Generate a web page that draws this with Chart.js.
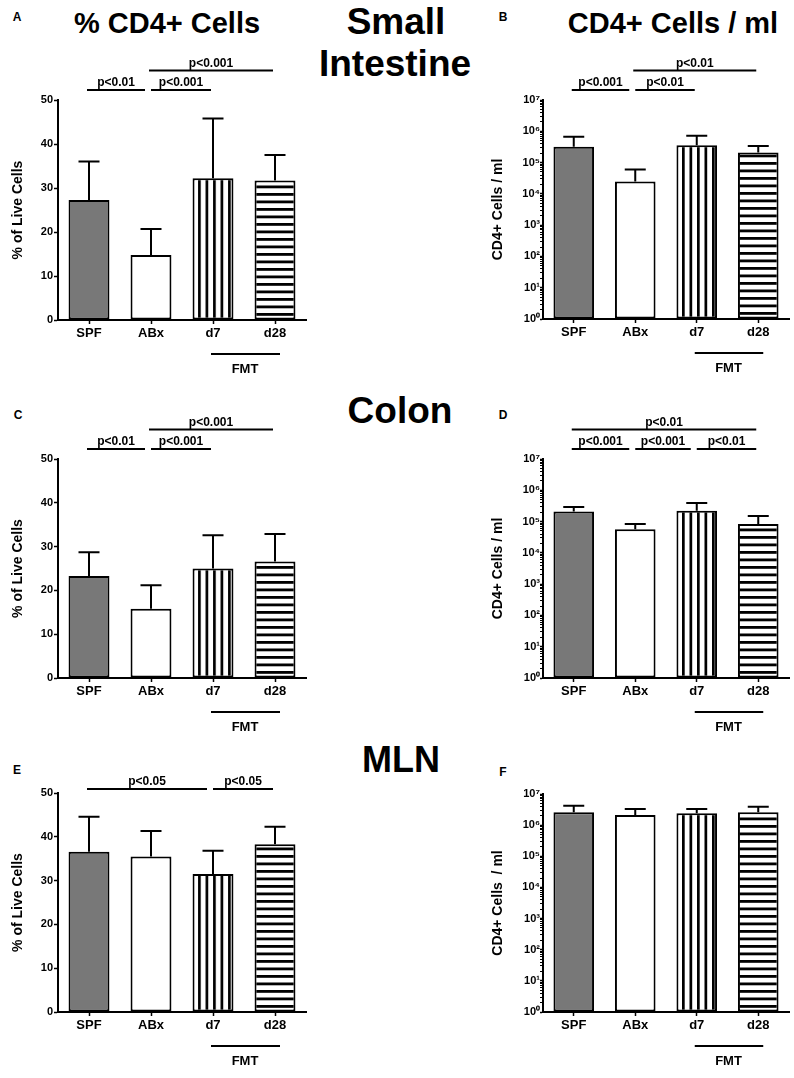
<!DOCTYPE html>
<html>
<head>
<meta charset="utf-8">
<script src="https://cdn.jsdelivr.net/npm/chart.js@4.4.1/dist/chart.umd.min.js"></script>
<style>
    body {
        margin: 0;
        width: 794px;
        height: 1078px;
        position: relative;
        overflow: hidden;
        background: #fff;
        font-family: "Liberation Sans", Arial, sans-serif;
        font-weight: bold;
        color: #000;
    }
    .txt {
        position: absolute;
        white-space: nowrap;
        line-height: 1;
        transform: translate(-50%, -50%);
    }
    canvas {
        position: absolute;
    }
</style>
</head>
<body>

<div class="txt" style="left:17px;top:17px;font-size:12px">A</div>
<div class="txt" style="left:167px;top:23px;font-size:29px">% CD4+ Cells</div>
<div class="txt" style="left:396px;top:21px;font-size:37px">Small</div>
<div class="txt" style="left:395px;top:63px;font-size:37px">Intestine</div>
<div class="txt" style="left:503px;top:17px;font-size:12px">B</div>
<div class="txt" style="left:673px;top:23px;font-size:29px">CD4+ Cells / ml</div>

<div class="txt" style="left:18px;top:415px;font-size:12px">C</div>
<div class="txt" style="left:400px;top:410px;font-size:37px">Colon</div>
<div class="txt" style="left:503px;top:415px;font-size:12px">D</div>

<div class="txt" style="left:17px;top:770px;font-size:12px">E</div>
<div class="txt" style="left:401px;top:760px;font-size:36px">MLN</div>
<div class="txt" style="left:503px;top:772px;font-size:12px">F</div>

<script>
//Groups on the x axis
var groups = ["SPF", "ABx", "d7", "d28"];
var fmtLabel = "FMT";

//Small intestine - % of live cells (bar = mean, hi = top of error bar)
var siPctMean = [27.3, 14.8, 32.2, 31.7];
var siPctHigh = [36.0, 20.7, 45.8, 37.5];
///Comparisons: [from group, to group, label, row]
var siPctSig = [[0, 1, "p<0.01", 0], [1, 2, "p<0.001", 0], [1, 3, "p<0.001", 1]];

//Small intestine - cells per ml
var siCountMean = [3.2e5, 2.5e4, 3.6e5, 2.1e5];
var siCountHigh = [6.7e5, 6.0e4, 7.2e5, 3.4e5];
var siCountSig = [[0, 1, "p<0.001", 0], [1, 2, "p<0.01", 0], [1, 3, "p<0.01", 1]];

//Colon - % of live cells
var colonPctMean = [23.3, 15.8, 25.0, 26.6];
var colonPctHigh = [28.7, 21.2, 32.6, 32.9];
var colonPctSig = [[0, 1, "p<0.01", 0], [1, 2, "p<0.001", 0], [1, 3, "p<0.001", 1]];

//Colon - cells per ml
var colonCountMean = [2.1e5, 5.7e4, 2.2e5, 8.4e4];
var colonCountHigh = [2.9e5, 8.4e4, 3.9e5, 1.5e5];
var colonCountSig = [[0, 1, "p<0.001", 0], [1, 2, "p<0.001", 0], [2, 3, "p<0.01", 0], [0, 3, "p<0.01", 1]];

//MLN - % of live cells
var mlnPctMean = [36.6, 35.5, 31.5, 38.3];
var mlnPctHigh = [44.6, 41.3, 36.8, 42.3];
var mlnPctSig = [[0, 2, "p<0.05", 0], [2, 3, "p<0.05", 0]];

//MLN - cells per ml
var mlnCountMean = [2.6e6, 2.1e6, 2.4e6, 2.6e6];
var mlnCountHigh = [4.2e6, 3.3e6, 3.3e6, 3.9e6];
var mlnCountSig = [];

//Axis ticks
var pctTicks = [0, 10, 20, 30, 40, 50];
var logDecades = [0, 1, 2, 3, 4, 5, 6, 7];
var superDigits = ["\u2070", "\u00b9", "\u00b2", "\u00b3", "\u2074", "\u2075", "\u2076", "\u2077"];

var FONT = '"Liberation Sans", Arial, sans-serif';
Chart.defaults.font.family = FONT;
Chart.defaults.font.weight = "bold";
Chart.defaults.color = "#000";

//Striped fills for the FMT groups
function stripes(vertical) {
    var c = document.createElement("canvas");
    c.width = 15;
    c.height = 15;
    var g = c.getContext("2d");
    g.fillStyle = "#fff";
    g.fillRect(0, 0, 15, 15);
    g.fillStyle = "#000";
    if (vertical) {
        g.fillRect(0, 0, 2.7, 15);
        g.fillRect(7.5, 0, 2.7, 15);
    } else {
        g.fillRect(0, 0, 15, 2.8);
        g.fillRect(0, 7.5, 15, 2.8);
    }
    return g.createPattern(c, "repeat");
}

//Lines the stripes up with the bar edges
var stripeAlign = {
    id: "stripeAlign",
    beforeDatasetsDraw: function (chart) {
        var meta = chart.getDatasetMeta(0);
        var bg = chart.data.datasets[0].backgroundColor;
        var b2 = meta.data[2];
        var b3 = meta.data[3];
        bg[2].setTransform(new DOMMatrix().translate(b2.x - b2.width / 2 + 5.5, 0));
        bg[3].setTransform(new DOMMatrix().translate(0, b3.base - 6.5));
    }
};

//Draws the upper error bar of each bar
var errorBars = {
    id: "errorBars",
    afterDatasetsDraw: function (chart) {
        var ds = chart.data.datasets[0];
        var meta = chart.getDatasetMeta(0);
        var y = chart.scales.y;
        var ctx = chart.ctx;
        ctx.save();
        ctx.strokeStyle = "#000";
        ctx.lineWidth = 2;
        meta.data.forEach(function (bar, i) {
            var top = y.getPixelForValue(ds.hi[i]);
            ctx.beginPath();
            ctx.moveTo(bar.x, bar.y);
            ctx.lineTo(bar.x, top);
            ctx.moveTo(bar.x - 10.5, top);
            ctx.lineTo(bar.x + 10.5, top);
            ctx.stroke();
        });
        ctx.restore();
    }
};

//Significance lines above and the FMT line below
var annotations = {
    id: "annotations",
    afterDraw: function (chart) {
        var ds = chart.data.datasets[0];
        var x = chart.scales.x;
        var area = chart.chartArea;
        var ctx = chart.ctx;
        ctx.save();
        ctx.strokeStyle = "#000";
        ctx.fillStyle = "#000";
        ctx.lineWidth = 2;
        ctx.font = "bold 12px " + FONT;
        ctx.textAlign = "center";
        ctx.textBaseline = "alphabetic";

        ds.sig.forEach(function (s) {
            var yy = area.top - ds.sigGap - s[3] * 19.5;
            var joinStart = ds.sig.some(function (o) { return o !== s && o[3] === s[3] && o[1] === s[0]; });
            var joinEnd = ds.sig.some(function (o) { return o !== s && o[3] === s[3] && o[0] === s[1]; });
            var x1 = x.getPixelForValue(s[0]) + (joinStart ? 0 : -2);
            var x2 = x.getPixelForValue(s[1]) + (joinEnd ? -6 : -2);
            ctx.beginPath();
            ctx.moveTo(x1, yy);
            ctx.lineTo(x2, yy);
            ctx.stroke();
            ctx.fillText(s[2], (x1 + x2) / 2, yy - 4);
        });

        var c2 = x.getPixelForValue(2);
        var c3 = x.getPixelForValue(3);
        var yb = area.bottom + 34;
        ctx.beginPath();
        ctx.moveTo(c2 - 2, yb);
        ctx.lineTo(c3 + 5, yb);
        ctx.stroke();
        ctx.font = "bold 13px " + FONT;
        ctx.fillText(fmtLabel, (c2 + c3) / 2 + 1, area.bottom + 53);
        ctx.restore();
    }
};

function logTicks(scale) {
    var t = [];
    logDecades.forEach(function (e) {
        for (var m = 1; m < 10; m++) {
            if (e === 7 && m > 1) break;
            t.push({ value: m * Math.pow(10, e) });
        }
    });
    scale.ticks = t;
}

function logLabel(value) {
    var i = logDecades.indexOf(Math.round(Math.log10(value)));
    if (i >= 0 && Math.pow(10, logDecades[i]) === value) {
        return "10" + superDigits[i];
    }
    return "";
}

function drawPanel(p) {
    var canvas = document.createElement("canvas");
    var top = p.areaTop - 60;
    var h = 60 + p.areaH + 70;
    canvas.width = 320;
    canvas.height = h;
    canvas.style.left = p.left + "px";
    canvas.style.top = top + "px";
    canvas.style.width = "320px";
    canvas.style.height = h + "px";
    document.body.appendChild(canvas);

    var yScale = {
        border: { display: true, color: "#000", width: 2 },
        grid: { drawOnChartArea: false, drawTicks: true, tickLength: 4, tickColor: "#000", tickWidth: 1.5 },
        ticks: { font: { size: 11, weight: "bold" }, padding: 1, color: "#000" },
        title: { display: true, text: p.yTitle, font: { size: 14, weight: "bold" }, padding: { top: 10, bottom: 0 }, color: "#000" },
        afterFit: function (s) { s.width = p.axisW; }
    };

    if (p.log) {
        yScale.type = "logarithmic";
        yScale.min = 1;
        yScale.max = 1e7;
        yScale.afterBuildTicks = logTicks;
        yScale.ticks.autoSkip = false;
        yScale.ticks.padding = 0;
        yScale.ticks.callback = function (v) { return logLabel(v); };
        yScale.grid.tickLength = 3;
        yScale.grid.tickWidth = function (c) { return logLabel(c.tick.value) ? 1.5 : 1; };
    } else {
        yScale.type = "linear";
        yScale.min = pctTicks[0];
        yScale.max = pctTicks[pctTicks.length - 1];
        yScale.ticks.stepSize = pctTicks[1] - pctTicks[0];
    }

    new Chart(canvas, {
        type: "bar",
        data: {
            labels: groups,
            datasets: [{
                data: p.mean,
                hi: p.hi,
                sig: p.sig,
                sigGap: p.sigGap,
                base: p.log ? 1 : 0,
                backgroundColor: ["#787878", "#ffffff", stripes(true), stripes(false)],
                borderColor: "#000",
                borderWidth: 2,
                borderSkipped: false,
                barPercentage: 0.66,
                categoryPercentage: 1
            }]
        },
        options: {
            responsive: false,
            animation: false,
            devicePixelRatio: 1,
            layout: { padding: { top: 60, right: p.padR, left: 0, bottom: 0 } },
            plugins: {
                legend: { display: false },
                tooltip: { enabled: false }
            },
            scales: {
                x: {
                    border: { display: true, color: "#000", width: 2 },
                    grid: { drawOnChartArea: false, drawTicks: true, offset: false, tickLength: 4, tickColor: "#000", tickWidth: 1.5 },
                    ticks: { font: { size: 13, weight: "bold" }, padding: 2, color: "#000" },
                    afterFit: function (s) { s.height = 70; }
                },
                y: yScale
            }
        },
        plugins: [stripeAlign, errorBars, annotations]
    });
}

var panels = [
    { left: 0, axisW: 58, padR: 14, areaTop: 100, areaH: 220, log: false, mean: siPctMean, hi: siPctHigh, sig: siPctSig, sigGap: 10, yTitle: "% of Live Cells" },
    { left: 480, axisW: 63, padR: 11, areaTop: 100, areaH: 219, log: true, mean: siCountMean, hi: siCountHigh, sig: siCountSig, sigGap: 10, yTitle: "CD4+ Cells / ml" },
    { left: 0, axisW: 58, padR: 14, areaTop: 459, areaH: 219, log: false, mean: colonPctMean, hi: colonPctHigh, sig: colonPctSig, sigGap: 10, yTitle: "% of Live Cells" },
    { left: 480, axisW: 63, padR: 11, areaTop: 459, areaH: 219, log: true, mean: colonCountMean, hi: colonCountHigh, sig: colonCountSig, sigGap: 10, yTitle: "CD4+ Cells / ml" },
    { left: 0, axisW: 58, padR: 14, areaTop: 793, areaH: 219, log: false, mean: mlnPctMean, hi: mlnPctHigh, sig: mlnPctSig, sigGap: 4, yTitle: "% of Live Cells" },
    { left: 480, axisW: 63, padR: 11, areaTop: 794, areaH: 218, log: true, mean: mlnCountMean, hi: mlnCountHigh, sig: mlnCountSig, sigGap: 4, yTitle: "CD4+ Cells  / ml" }
];

panels.forEach(drawPanel);
</script>
</body>
</html>
